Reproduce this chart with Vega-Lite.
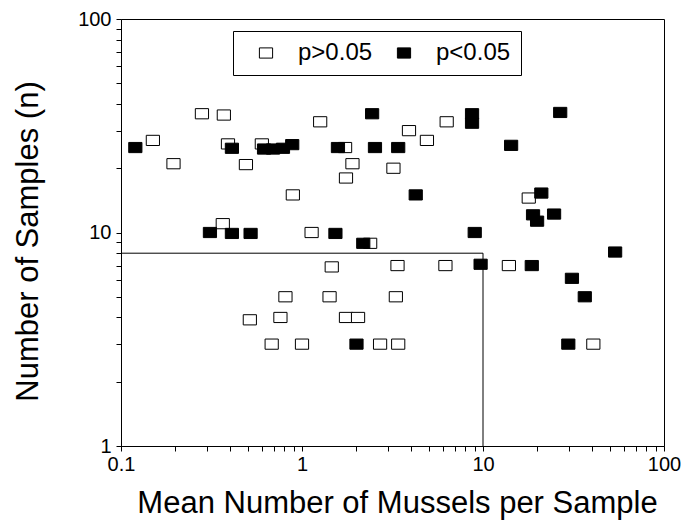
{
  "$schema": "https://vega.github.io/schema/vega-lite/v6.json",
  "autosize": {"type": "none"},
  "padding": {"left": 121, "top": 19, "right": 31, "bottom": 75},
  "width": 543,
  "height": 427,
  "background": "white",
  "config": {
    "view": {"stroke": "black", "strokeWidth": 1},
    "font": "Liberation Sans"
  },
  "datasets": {
    "pts": [
      {"x": 0.15, "n": 27, "sig": "p>0.05"},
      {"x": 0.195, "n": 21, "sig": "p>0.05"},
      {"x": 0.28, "n": 36, "sig": "p>0.05"},
      {"x": 0.37, "n": 35.5, "sig": "p>0.05"},
      {"x": 0.39, "n": 26, "sig": "p>0.05"},
      {"x": 0.49, "n": 20.8, "sig": "p>0.05"},
      {"x": 0.6, "n": 26, "sig": "p>0.05"},
      {"x": 0.89, "n": 15, "sig": "p>0.05"},
      {"x": 0.365, "n": 11, "sig": "p>0.05"},
      {"x": 1.26, "n": 33, "sig": "p>0.05"},
      {"x": 1.73, "n": 25, "sig": "p>0.05"},
      {"x": 1.9, "n": 21, "sig": "p>0.05"},
      {"x": 1.75, "n": 18, "sig": "p>0.05"},
      {"x": 3.2, "n": 20, "sig": "p>0.05"},
      {"x": 3.9, "n": 30, "sig": "p>0.05"},
      {"x": 4.9, "n": 27, "sig": "p>0.05"},
      {"x": 6.3, "n": 33, "sig": "p>0.05"},
      {"x": 1.13, "n": 10, "sig": "p>0.05"},
      {"x": 2.38, "n": 8.9, "sig": "p>0.05"},
      {"x": 17.9, "n": 14.5, "sig": "p>0.05"},
      {"x": 0.81, "n": 5, "sig": "p>0.05"},
      {"x": 0.515, "n": 3.9, "sig": "p>0.05"},
      {"x": 0.76, "n": 4, "sig": "p>0.05"},
      {"x": 0.68, "n": 3, "sig": "p>0.05"},
      {"x": 1.0, "n": 3, "sig": "p>0.05"},
      {"x": 1.46, "n": 6.9, "sig": "p>0.05"},
      {"x": 3.37, "n": 7, "sig": "p>0.05"},
      {"x": 6.2, "n": 7, "sig": "p>0.05"},
      {"x": 1.42, "n": 5, "sig": "p>0.05"},
      {"x": 3.3, "n": 5, "sig": "p>0.05"},
      {"x": 1.75, "n": 4, "sig": "p>0.05"},
      {"x": 2.04, "n": 4, "sig": "p>0.05"},
      {"x": 2.7, "n": 3, "sig": "p>0.05"},
      {"x": 3.4, "n": 3, "sig": "p>0.05"},
      {"x": 13.9, "n": 7, "sig": "p>0.05"},
      {"x": 40.7, "n": 3, "sig": "p>0.05"},
      {"x": 0.12, "n": 25, "sig": "p<0.05"},
      {"x": 0.41, "n": 24.8, "sig": "p<0.05"},
      {"x": 0.617, "n": 24.6, "sig": "p<0.05"},
      {"x": 0.692, "n": 24.6, "sig": "p<0.05"},
      {"x": 0.785, "n": 24.8, "sig": "p<0.05"},
      {"x": 0.883, "n": 25.8, "sig": "p<0.05"},
      {"x": 0.31, "n": 10, "sig": "p<0.05"},
      {"x": 0.41, "n": 9.9, "sig": "p<0.05"},
      {"x": 0.52, "n": 9.9, "sig": "p<0.05"},
      {"x": 1.58, "n": 25, "sig": "p<0.05"},
      {"x": 2.44, "n": 36, "sig": "p<0.05"},
      {"x": 2.53, "n": 25, "sig": "p<0.05"},
      {"x": 3.4, "n": 25, "sig": "p<0.05"},
      {"x": 4.25, "n": 15, "sig": "p<0.05"},
      {"x": 8.7, "n": 36, "sig": "p<0.05"},
      {"x": 8.7, "n": 32.5, "sig": "p<0.05"},
      {"x": 1.53, "n": 9.9, "sig": "p<0.05"},
      {"x": 2.18, "n": 8.9, "sig": "p<0.05"},
      {"x": 9.0, "n": 10, "sig": "p<0.05"},
      {"x": 14.3, "n": 25.6, "sig": "p<0.05"},
      {"x": 26.7, "n": 36.5, "sig": "p<0.05"},
      {"x": 21, "n": 15.3, "sig": "p<0.05"},
      {"x": 18.9, "n": 12.1, "sig": "p<0.05"},
      {"x": 19.9, "n": 11.3, "sig": "p<0.05"},
      {"x": 24.7, "n": 12.2, "sig": "p<0.05"},
      {"x": 53.7, "n": 8.1, "sig": "p<0.05"},
      {"x": 9.7, "n": 7.1, "sig": "p<0.05"},
      {"x": 18.6, "n": 7, "sig": "p<0.05"},
      {"x": 31, "n": 6.1, "sig": "p<0.05"},
      {"x": 36.5, "n": 5, "sig": "p<0.05"},
      {"x": 2.0, "n": 3, "sig": "p<0.05"},
      {"x": 29.6, "n": 3, "sig": "p<0.05"}
    ],
    "lines": [
      {"x": 0.1, "x2": 10, "y": 8, "y2": 8},
      {"x": 10, "x2": 10, "y": 1, "y2": 8}
    ]
  },
  "layer": [
    {
      "data": {"name": "pts"},
      "mark": {
        "type": "point",
        "shape": "M-1.1,-0.85H1.1V0.85H-1.1Z",
        "size": 144,
        "filled": true,
        "stroke": "black",
        "strokeWidth": 1,
        "opacity": 1
      },
      "encoding": {
        "x": {
          "field": "x", "type": "quantitative",
          "scale": {"type": "log", "domain": [0.1, 100], "nice": false},
          "axis": {
            "title": "Mean Number of Mussels per Sample",
            "values": [0.1, 0.2, 0.3, 0.4, 0.5, 0.6, 0.7, 0.8, 0.9, 1, 2, 3, 4, 5, 6, 7, 8, 9, 10, 20, 30, 40, 50, 60, 70, 80, 90, 100],
            "labelExpr": "datum.value == 0.1 || datum.value == 1 || datum.value == 10 || datum.value == 100 ? toString(datum.value) : ''",
            "grid": false,
            "ticks": true,
            "tickSize": 5,
            "tickWidth": 1,
            "tickColor": "black",
            "domainColor": "black",
            "labelColor": "black",
            "labelFont": "Liberation Sans",
            "labelFontSize": 20,
            "labelPadding": 3,
            "labelFlush": false,
            "labelOverlap": false,
            "titleFont": "Liberation Sans",
            "titleFontSize": 31,
            "titleFontWeight": "normal",
            "titleColor": "black",
            "titleBaseline": "alphabetic",
            "titleX": 276,
            "titleY": 66
          }
        },
        "y": {
          "field": "n", "type": "quantitative",
          "scale": {"type": "log", "domain": [1, 100], "nice": false},
          "axis": {
            "title": "Number of Samples (n)",
            "values": [1, 2, 3, 4, 5, 6, 7, 8, 9, 10, 20, 30, 40, 50, 60, 70, 80, 90, 100],
            "labelExpr": "datum.value == 1 || datum.value == 10 || datum.value == 100 ? toString(datum.value) : ''",
            "grid": false,
            "ticks": true,
            "tickSize": 5,
            "tickWidth": 1,
            "tickColor": "black",
            "domainColor": "black",
            "labelColor": "black",
            "labelFont": "Liberation Sans",
            "labelFontSize": 20,
            "labelPadding": 5,
            "labelFlush": false,
            "labelOverlap": false,
            "titleFont": "Liberation Sans",
            "titleFontSize": 31,
            "titleFontWeight": "normal",
            "titleColor": "black",
            "titleBaseline": "alphabetic",
            "titleX": -84,
            "titleY": 222
          }
        },
        "fill": {
          "field": "sig", "type": "nominal",
          "scale": {"domain": ["p>0.05", "p<0.05"], "range": ["white", "black"]},
          "legend": {
            "title": null,
            "orient": "none",
            "legendX": 112,
            "legendY": 12,
            "direction": "horizontal",
            "strokeColor": "black",
            "fillColor": "white",
            "padding": 10,
            "symbolOffset": 11,
            "symbolSize": 144,
            "symbolType": "M-1.1,-0.85H1.1V0.85H-1.1Z",
            "symbolStrokeColor": "black",
            "symbolStrokeWidth": 1,
            "symbolOpacity": 1,
            "labelFont": "Liberation Sans",
            "labelFontSize": 24,
            "labelColor": "black",
            "labelOffset": 20,
            "columnPadding": 8
          }
        }
      }
    },
    {
      "data": {"name": "lines"},
      "mark": {"type": "rule", "stroke": "black", "strokeWidth": 1},
      "encoding": {
        "x": {"field": "x", "type": "quantitative", "scale": {"type": "log", "domain": [0.1, 100], "nice": false}},
        "x2": {"field": "x2"},
        "y": {"field": "y", "type": "quantitative", "scale": {"type": "log", "domain": [1, 100], "nice": false}},
        "y2": {"field": "y2"}
      }
    }
  ]
}
